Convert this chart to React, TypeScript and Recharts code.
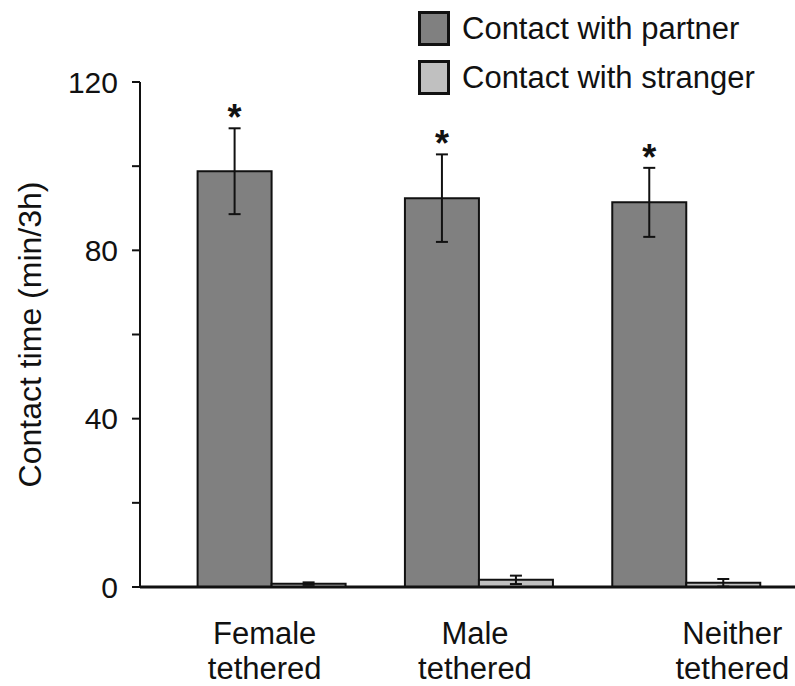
import { Bar, BarChart, ErrorBar, LabelList, XAxis, YAxis } from 'recharts';

const groups = ['Female tethered', 'Male tethered', 'Neither tethered'];
const partner = [98.8, 92.4, 91.4];
const partnerErr = [10.2, 10.4, 8.2];
const stranger = [0.8, 1.7, 1.0];
const strangerErr = [0.3, 1.0, 0.9];
const yTicks = [0, 20, 40, 60, 80, 100, 120];
const labelledTicks = [0, 40, 80, 120];
const seriesNames = ['Contact with partner', 'Contact with stranger'];
const seriesColors = ['#808080', '#c0c0c0'];

const data = groups.map((g, i) => ({
    name: g,
    partner: partner[i],
    partnerErr: partnerErr[i],
    stranger: stranger[i],
    strangerErr: strangerErr[i],
}));

const FONT = '"Liberation Sans", Arial, sans-serif';

// the labels in the figure sit a bit off the category centres
const tickShift = [-7, -4, 46];

function GroupTick(props: any) {
    const { x, y, payload, index } = props;
    const lines = String(payload.value).split(' ');
    const tx = x + (tickShift[index] || 0);
    return (
        <g>
            <text x={tx} y={y + 49} textAnchor='middle' fontSize={31} fontFamily={FONT} fill='#111'>
                {lines[0]}
            </text>
            <text x={tx} y={y + 84} textAnchor='middle' fontSize={31} fontFamily={FONT} fill='#111'>
                {lines[1]}
            </text>
        </g>
    );
}

function Star(props: any) {
    const { x, y, width, height, value, index } = props;
    if (!value) return null;
    const capY = y - (height / value) * partnerErr[index];
    return (
        <text x={x + width / 2} y={capY + 2} textAnchor='middle' fontSize={36} fontWeight='bold' fontFamily={FONT} fill='#111'>
            *
        </text>
    );
}

function LegendBox() {
    return (
        <div style={{ position: 'absolute', top: 4, left: 418, fontFamily: FONT }}>
            {seriesNames.map((label, i) => (
                <div key={label} style={{ display: 'flex', alignItems: 'center', height: 49 }}>
                    <div style={{ width: 26, height: 29, background: seriesColors[i], border: '3px solid #111', marginRight: 12 }} />
                    <span style={{ fontSize: 31, color: '#111' }}>{label}</span>
                </div>
            ))}
        </div>
    );
}

function App() {
    return (
        <div style={{ position: 'relative', width: 795, height: 686, background: '#fff' }}>
            <style>{'body{margin:0}'}</style>
            <BarChart
                width={795}
                height={686}
                data={data}
                margin={{ top: 82, right: 0, left: 0, bottom: 0 }}
                barCategoryGap={29.6}
                barGap={0}
            >
                <XAxis
                    dataKey='name'
                    height={99}
                    padding={{ left: 28, right: 5 }}
                    axisLine={{ stroke: '#111', strokeWidth: 3 }}
                    tickLine={false}
                    tick={<GroupTick />}
                    interval={0}
                />
                <YAxis
                    width={140}
                    domain={[0, 120]}
                    ticks={yTicks}
                    interval={0}
                    tickSize={8}
                    tickMargin={14}
                    tickFormatter={(v: number) => (labelledTicks.includes(v) ? String(v) : '')}
                    axisLine={{ stroke: '#111', strokeWidth: 2 }}
                    tickLine={{ stroke: '#111', strokeWidth: 2 }}
                    tick={{ fill: '#111', fontSize: 30, fontFamily: FONT }}
                    label={{
                        value: 'Contact time (min/3h)',
                        angle: -90,
                        position: 'insideLeft',
                        offset: 30,
                        style: { textAnchor: 'middle', fontSize: 32, fontFamily: FONT, fill: '#111' },
                    }}
                />
                <Bar dataKey='partner' name={seriesNames[0]} fill={seriesColors[0]} stroke='#111' strokeWidth={2} isAnimationActive={false}>
                    <ErrorBar dataKey='partnerErr' width={6} stroke='#111' strokeWidth={2} />
                    <LabelList dataKey='partner' content={<Star />} />
                </Bar>
                <Bar dataKey='stranger' name={seriesNames[1]} fill={seriesColors[1]} stroke='#111' strokeWidth={2} isAnimationActive={false}>
                    <ErrorBar dataKey='strangerErr' width={6} stroke='#111' strokeWidth={2} />
                </Bar>
            </BarChart>
            <LegendBox />
        </div>
    );
}

export default App;
